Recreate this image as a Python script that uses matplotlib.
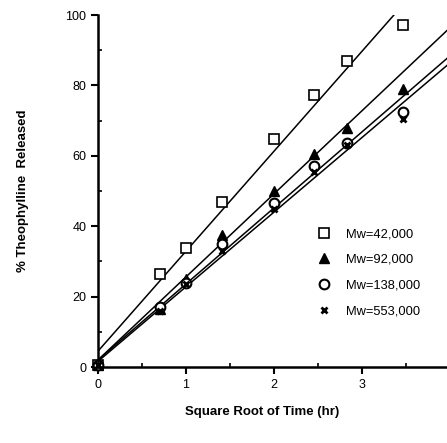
import matplotlib.pyplot as plt
import numpy as np
from matplotlib.ticker import MultipleLocator

plt.rcParams["font.family"] = ["Liberation Sans", "DejaVu Sans"]

# square root of time (hr)
x_pts = [0.0, 0.707, 1.0, 1.414, 2.0, 2.449, 2.828, 3.464]

labels = ["Mw=42,000", "Mw=92,000", "Mw=138,000", "Mw=553,000"]
y_42k = [0.5, 26.4, 33.8, 46.9, 64.8, 77.3, 86.9, 97.2]
y_92k = [0.5, 16.5, 25.0, 37.5, 50.0, 60.5, 68.0, 79.0]
y_138k = [0.5, 17.0, 24.0, 35.0, 46.5, 57.0, 63.5, 72.5]
y_553k = [0.5, 16.0, 23.5, 33.0, 45.0, 55.5, 63.0, 70.5]

# fitted lines: (intercept, slope)
fits = [(4.5, 28.4), (2.0, 23.6), (2.0, 21.6), (1.6, 21.2)]

series = [y_42k, y_92k, y_138k, y_553k]
markers = [
    dict(marker="s", mfc="white", mec="black", ms=7, mew=1.2),
    dict(marker="^", mfc="black", mec="black", ms=7, mew=1.0),
    dict(marker="o", mfc="white", mec="black", ms=7, mew=1.5),
    dict(marker="x", mfc="black", mec="black", ms=5, mew=2.0),
]

fig = plt.figure(figsize=(4.47, 4.43), dpi=100)
ax = fig.add_axes([98 / 447, 76 / 443, 352 / 447, 352 / 443])

xl = np.array([0.0, 4.0])
for (b, m) in fits:
    ax.plot(xl, b + m * xl, color="black", lw=1.1)

for ys, lab, mk in zip(series, labels, markers):
    ax.plot(x_pts, ys, ls="none", label=lab, clip_on=False, **mk)

ax.set_xlim(0, 4)
ax.set_ylim(0, 100)
ax.xaxis.set_major_locator(MultipleLocator(1))
ax.xaxis.set_minor_locator(MultipleLocator(0.5))
ax.yaxis.set_major_locator(MultipleLocator(20))
ax.yaxis.set_minor_locator(MultipleLocator(10))
for s in ["top", "right"]:
    ax.spines[s].set_visible(False)
for s in ["left", "bottom"]:
    ax.spines[s].set_linewidth(1.8)
ax.tick_params(which="major", direction="out", length=5, width=1.5, labelsize=9)
ax.tick_params(which="minor", direction="in", length=3, width=1.2)

ax.set_xlabel("Square Root of Time (hr)", fontsize=9.5, fontweight="bold")
ax.xaxis.set_label_coords(0.467, -0.11)
ax.set_ylabel("% Theophylline  Released", fontsize=9.5, fontweight="bold", labelpad=26)

ax.legend(loc="upper left", bbox_to_anchor=(0.609, 0.409), frameon=False,
          fontsize=9.3, labelspacing=1.05, handletextpad=1.2, handlelength=1.0,
          borderaxespad=0)

fig.savefig("out.png", dpi=100)
